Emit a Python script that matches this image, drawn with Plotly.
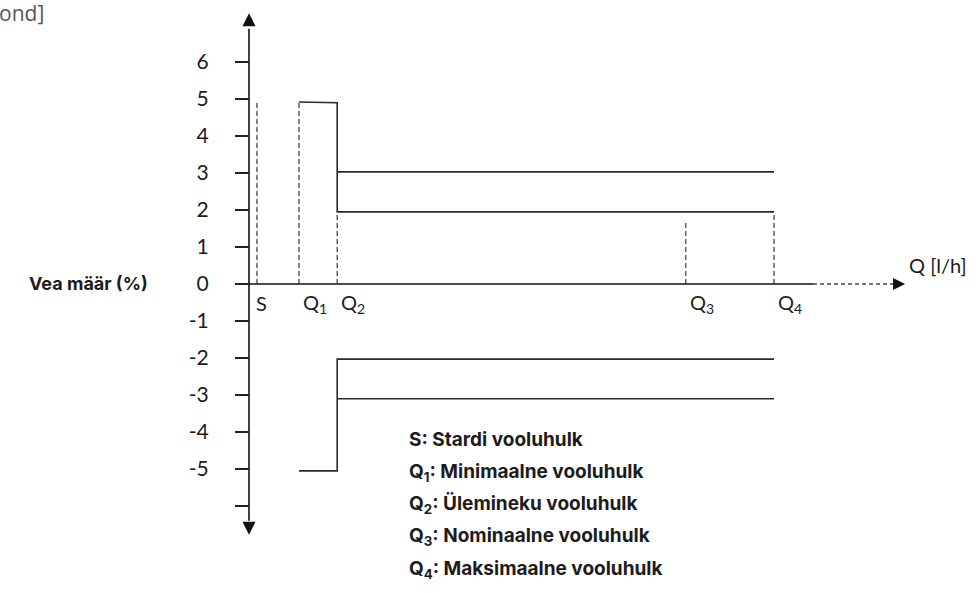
import plotly.graph_objects as go

# ---------------- data ----------------
flow_names = ["S", "Q<sub>1</sub>", "Q<sub>2</sub>", "Q<sub>3</sub>", "Q<sub>4</sub>"]
flow_pos = [0.19, 1.19, 2.1, 10.4, 12.5]          # position of each flow rate on the Q axis
flow_marker_top = [4.95, 4.92, 1.95, 1.73, 1.95]  # height of dashed drop lines

low_zone_upper = [4.92, 4.9]      # error limit Q1..Q2 (upper)
low_zone_lower = [-5.05, -5.05]   # error limit Q1..Q2 (lower)
high_zone_upper = [3.03, 1.95]    # error limits Q2..Q4 (upper, two classes)
high_zone_lower = [-2.03, -3.1]   # error limits Q2..Q4 (lower, two classes)

y_tick_vals = [6, 5, 4, 3, 2, 1, 0, -1, -2, -3, -4, -5, -6]
y_tick_text = ["6", "5", "4", "3", "2", "1", "0", "-1", "-2", "-3", "-4", "-5", ""]

legend_lines = [
    "S: Stardi vooluhulk",
    "Q<sub>1</sub>: Minimaalne vooluhulk",
    "Q<sub>2</sub>: Ülemineku vooluhulk",
    "Q<sub>3</sub>: Nominaalne vooluhulk",
    "Q<sub>4</sub>: Maksimaalne vooluhulk",
]
y_title = "Vea määr (%)"
x_title = "Q [l/h]"
corner_text = "kond]"

# ---------------- geometry (screen pixels) ----------------
W, H = 976, 593
PL, PR, PT, PB = 235, 910, 10, 583   # plot area on screen
PW, PH = PR - PL, PB - PT
AXIS_PX = 249           # pixel x of the vertical axis
ZERO_PX = 284           # pixel y of zero
SX, SY = 42.0, 37.0     # pixels per unit

x_range = [(PL - AXIS_PX) / SX, (PR - AXIS_PX) / SX]
y_range = [(ZERO_PX - PB) / SY, (ZERO_PX - PT) / SY]


def pxx(p):
    return (p - PL) / PW


def pxy(p):
    return (PB - p) / PH


LINE = "#2b2b2b"
TXT = "#1c1c1c"

fig = go.Figure()

# vertical axis with arrows
y_axis_top, y_axis_bottom = 6.9, -6.4
fig.add_trace(go.Scatter(x=[0, 0], y=[y_axis_bottom, y_axis_top], mode="lines",
                         line=dict(color="#111", width=1.6), hoverinfo="skip"))
fig.add_trace(go.Scatter(x=[0, 0], y=[7.32, -6.78], mode="markers",
                         marker=dict(symbol=["arrow-up", "arrow-down"], size=13, color="#111",
                                     line=dict(width=0)),
                         hoverinfo="skip", cliponaxis=False))

# horizontal axis: solid then dashed, with arrow
x_solid_end, x_dash_end, x_tip = 13.43, 15.38, 15.62
fig.add_trace(go.Scatter(x=[x_range[0], x_solid_end], y=[0, 0], mode="lines",
                         line=dict(color="#111", width=1.6), hoverinfo="skip"))
fig.add_trace(go.Scatter(x=[x_solid_end, x_dash_end], y=[0, 0], mode="lines",
                         line=dict(color="#444", width=1.3, dash="4px,3px"), hoverinfo="skip"))
fig.add_trace(go.Scatter(x=[x_tip], y=[0], mode="markers",
                         marker=dict(symbol="arrow-right", size=12, color="#111", line=dict(width=0)),
                         hoverinfo="skip", cliponaxis=False))

# dashed drop lines
dx, dy = [], []
for xp, top in zip(flow_pos, flow_marker_top):
    dx += [xp, xp, None]
    dy += [0, top, None]
fig.add_trace(go.Scatter(x=dx, y=dy, mode="lines",
                         line=dict(color="#333", width=1.2, dash="5px,3px"), hoverinfo="skip"))

q1, q2, q4 = flow_pos[1], flow_pos[2], flow_pos[4]

# upper envelope
fig.add_trace(go.Scatter(
    x=[q1, q2, q2, q4, None, q2, q4],
    y=[low_zone_upper[0], low_zone_upper[1], high_zone_upper[1], high_zone_upper[1], None,
       high_zone_upper[0], high_zone_upper[0]],
    mode="lines", line=dict(color=LINE, width=1.6), hoverinfo="skip"))
# lower envelope
fig.add_trace(go.Scatter(
    x=[q1, q2, q2, q4, None, q2, q4],
    y=[low_zone_lower[0], low_zone_lower[1], high_zone_lower[0], high_zone_lower[0], None,
       high_zone_lower[1], high_zone_lower[1]],
    mode="lines", line=dict(color=LINE, width=1.6), hoverinfo="skip"))

annotations = []
# flow labels under the axis
for i, (name, xp) in enumerate(zip(flow_names, flow_pos)):
    annotations.append(dict(x=xp, y=0, xref="x", yref="y", text=name, showarrow=False,
                            xanchor="left", yanchor="middle", xshift=(-3 if i == 0 else 2),
                            yshift=-19, font=dict(family="Lato", size=20, color=TXT)))
# axis titles
annotations.append(dict(x=pxx(907), y=pxy(265), xref="paper", yref="paper", text=x_title,
                        showarrow=False, xanchor="left", yanchor="middle",
                        font=dict(family="Lato", size=20, color=TXT)))
annotations.append(dict(x=pxx(150), y=pxy(283), xref="paper", yref="paper",
                        text="<b>" + y_title + "</b>", showarrow=False, xanchor="right",
                        yanchor="middle", font=dict(family="Inter", size=18, color=TXT)))
annotations.append(dict(x=pxx(46), y=pxy(13), xref="paper", yref="paper", text=corner_text,
                        showarrow=False, xanchor="right", yanchor="middle",
                        font=dict(family="Open Sans", size=21, color="#555")))
# legend text
for k, line in enumerate(legend_lines):
    annotations.append(dict(x=pxx(407), y=pxy(440 + 32.3 * k), xref="paper", yref="paper",
                            text="<b>" + line + "</b>", showarrow=False, xanchor="left",
                            yanchor="middle", font=dict(family="Inter", size=19, color=TXT)))

fig.update_layout(
    width=W, height=H,
    margin=dict(l=PL, r=W - PR, t=PT, b=H - PB),
    paper_bgcolor="white", plot_bgcolor="white",
    showlegend=False,
    xaxis=dict(range=x_range, visible=False, fixedrange=True),
    yaxis=dict(range=y_range, anchor="free", position=pxx(AXIS_PX), side="left",
               showgrid=False, zeroline=False, showline=False,
               ticks="outside", ticklen=14, tickwidth=1.5, tickcolor="#222",
               tickmode="array", tickvals=y_tick_vals, ticktext=y_tick_text,
               ticklabelstandoff=22,
               tickfont=dict(family="Lato", size=21, color=TXT), fixedrange=True),
    annotations=annotations,
)

fig.write_html("out.html", config={"displayModeBar": False},
               post_script="document.body.style.margin='0px';")
